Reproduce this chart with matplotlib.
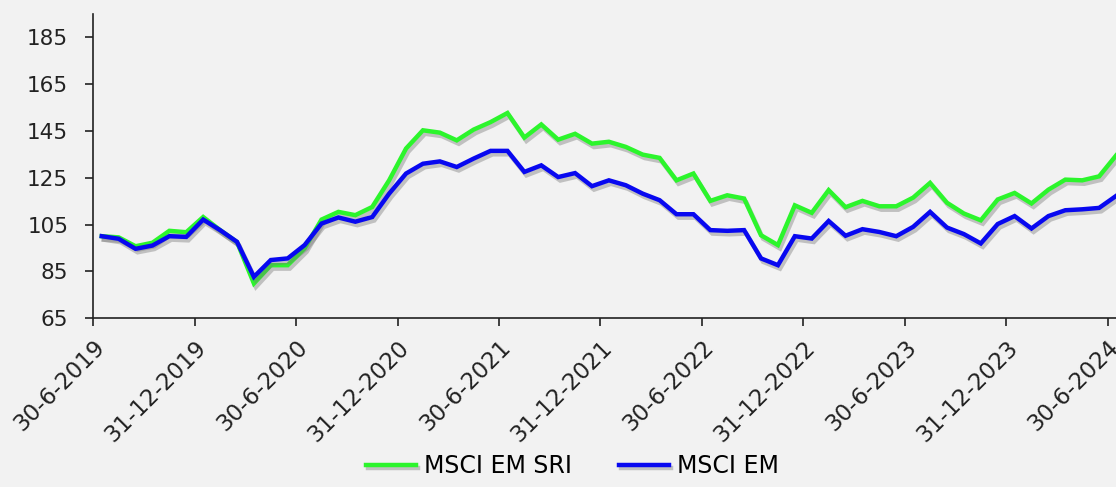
import matplotlib
matplotlib.use("Agg")
import matplotlib.pyplot as plt
import matplotlib.patheffects as pe
import numpy as np

# monthly index levels, first point = 100
msci_em_sri = [100.0, 99.5, 95.7, 97.2, 102.3, 101.7, 108.2, 102.6, 97.5, 79.8,
               87.6, 87.6, 94.8, 107.1, 110.4, 109.0, 112.5, 123.9, 137.5, 145.3,
               144.3, 141.0, 145.6, 148.8, 152.7, 142.2, 147.8, 141.3, 143.8, 139.6,
               140.4, 138.2, 134.9, 133.5, 123.9, 126.8, 115.1, 117.5, 116.1, 100.4,
               96.2, 113.2, 110.0, 119.7, 112.4, 115.1, 112.8, 112.8, 116.5, 122.8,
               114.3, 109.7, 106.8, 115.7, 118.5, 114.0, 119.9, 124.2, 123.9, 125.6,
               134.5]
msci_em = [100.0, 98.9, 94.6, 96.0, 100.0, 99.7, 107.1, 102.6, 97.6, 82.6,
           89.8, 90.5, 96.2, 105.4, 108.0, 106.2, 108.2, 118.2, 126.8, 131.0,
           132.0, 129.6, 133.2, 136.5, 136.5, 127.5, 130.3, 125.3, 127.0, 121.4,
           123.9, 121.8, 118.2, 115.4, 109.4, 109.4, 102.6, 102.3, 102.6, 90.5,
           87.6, 100.0, 99.0, 106.5, 100.2, 103.0, 101.8, 100.0, 104.0, 110.4,
           103.7, 100.9, 96.9, 105.2, 108.6, 103.3, 108.6, 111.1, 111.5, 112.1,
           117.2]
tick_labels = ["30-6-2019", "31-12-2019", "30-6-2020", "31-12-2020", "30-6-2021",
               "31-12-2021", "30-6-2022", "31-12-2022", "30-6-2023", "31-12-2023",
               "30-6-2024"]
y_ticks = [65, 85, 105, 125, 145, 165, 185]

bg = "#f2f2f2"
fig = plt.figure(figsize=(11.16, 4.87), dpi=100, facecolor=bg)
# axes run past the right edge of the picture, as in the reference
ax = fig.add_axes([0.0836, 0.347, 0.924, 0.624], facecolor=bg)

x = np.arange(len(msci_em)) + 0.5
shadow = [pe.SimpleLineShadow(offset=(1.5, -2.5), shadow_color="#777777", alpha=0.4),
          pe.Normal()]
ax.plot(x, msci_em_sri, color="#2cf52c", lw=3.2, label="MSCI EM SRI",
        path_effects=shadow, solid_joinstyle="miter")
ax.plot(x, msci_em, color="#0808f0", lw=3.2, label="MSCI EM",
        path_effects=shadow, solid_joinstyle="miter")

ax.set_xlim(0, len(msci_em))
ax.set_ylim(65, 195)
ax.set_yticks(y_ticks)
ax.set_xticks(np.arange(0, len(msci_em), 6))
ax.set_xticklabels(tick_labels, rotation=45, ha="right", va="top",
                   rotation_mode="anchor")

for side in ["top", "right"]:
    ax.spines[side].set_visible(False)
for side in ["left", "bottom"]:
    ax.spines[side].set_color("#222222")
    ax.spines[side].set_linewidth(1.2)

ax.tick_params(axis="y", length=6, width=1.2, pad=12, labelsize=15.5,
               colors="#222222")
ax.tick_params(axis="x", length=6, width=1.2, pad=7, labelsize=16.5,
               colors="#222222")

leg = fig.legend(loc="lower center", bbox_to_anchor=(0.513, -0.025), ncol=2,
                 frameon=False, fontsize=17, handlelength=2.1,
                 columnspacing=2.0, handletextpad=0.35)

fig.savefig("out.png", dpi=100, facecolor=bg)
